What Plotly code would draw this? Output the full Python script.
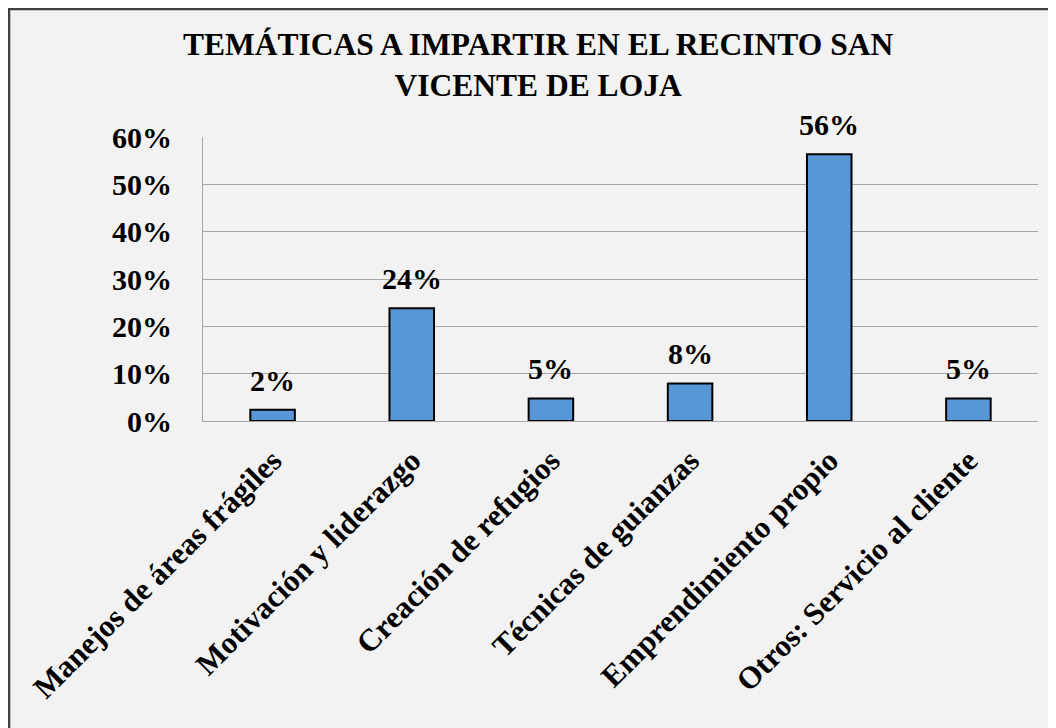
import plotly.graph_objects as go

# Data
categories = [
    "Manejos de áreas frágiles",
    "Motivación y liderazgo",
    "Creación de refugios",
    "Técnicas de guianzas",
    "Emprendimiento propio",
    "Otros: Servicio al cliente",
]
values = [0.0238, 0.2381, 0.0476, 0.0794, 0.5635, 0.0476]
labels = ["2%", "24%", "5%", "8%", "56%", "5%"]
y_ticks = [0, 0.1, 0.2, 0.3, 0.4, 0.5, 0.6]
y_tick_text = ["0%", "10%", "20%", "30%", "40%", "50%", "60%"]

FONT = "Liberation Serif"

fig = go.Figure()

fig.add_trace(go.Bar(
    x=categories,
    y=values,
    width=0.32,
    marker=dict(color="#5897d6", line=dict(color="#000000", width=2)),
    hoverinfo="skip",
))

# Value labels above bars
for cat, val, lab in zip(categories, values, labels):
    fig.add_annotation(
        x=cat, y=val, text="<b>%s</b>" % lab,
        showarrow=False, yanchor="bottom", yshift=11,
        font=dict(family=FONT, size=30, color="black"),
    )

# Chart area frame (cropped at right and bottom in the reference)
fig.add_shape(
    type="rect", xref="paper", yref="paper",
    x0=-0.2323, x1=1.2, y0=-1.5, y1=1.4507,
    fillcolor="#f2f2f2", line=dict(color="#404040", width=2.5),
    layer="below",
)

fig.update_layout(
    width=1056, height=728,
    margin=dict(l=195, r=26, t=129, b=315),
    paper_bgcolor="white",
    plot_bgcolor="rgba(0,0,0,0)",
    showlegend=False,
    title=dict(
        text="<b>TEMÁTICAS A IMPARTIR EN EL RECINTO SAN<br>VICENTE DE LOJA</b>",
        x=0.502, xanchor="center", y=0.936, yanchor="top",
        font=dict(family=FONT, size=31.5, color="black"),
    ),
    font=dict(family=FONT, color="black"),
)

fig.update_yaxes(
    range=[0, 0.6],
    tickvals=y_ticks, ticktext=["<b>%s</b>" % t for t in y_tick_text],
    tickfont=dict(family=FONT, size=30, color="black"),
    showgrid=True, gridcolor="#a6a6a6", gridwidth=1,
    showline=True, linecolor="#a6a6a6", linewidth=1,
    ticks="", ticklabelstandoff=24, zeroline=False,
)

fig.update_xaxes(
    tickvals=categories,
    ticktext=["<b>%s</b>" % c for c in categories],
    tickangle=-45,
    tickfont=dict(family=FONT, size=31, color="black"),
    showline=True, linecolor="#a6a6a6", linewidth=1,
    ticks="", showgrid=False, ticklabelstandoff=8,
)

fig.write_html("out.html")
